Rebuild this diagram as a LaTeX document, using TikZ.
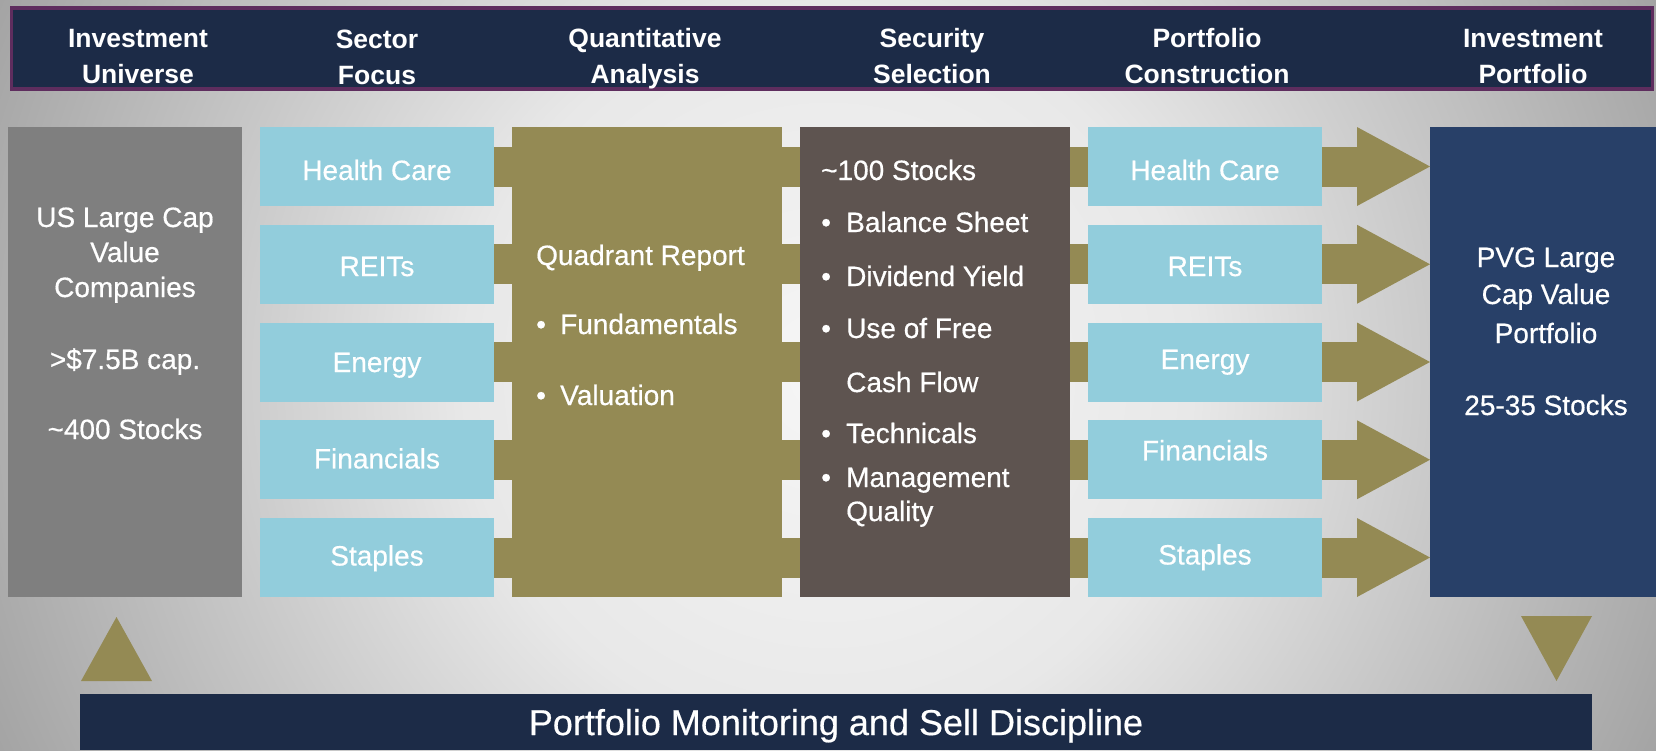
\documentclass[tikz,border=0pt]{standalone}
\usepackage{fontspec}
\setmainfont{Liberation Sans}
\newfontfamily\bodyfam{Liberation Sans}[FakeBold=0.5]
\usetikzlibrary{calc}
\definecolor{navy}{HTML}{1C2B47}
\definecolor{hdborder}{HTML}{5E2D5E}
\definecolor{boxgray}{HTML}{7F7F7F}
\definecolor{lblue}{HTML}{92CDDC}
\definecolor{barolive}{HTML}{948A54}
\definecolor{secbrown}{HTML}{5E5450}
\definecolor{portblue}{HTML}{284068}
\definecolor{bgca}{HTML}{F6F6F6}
\definecolor{bgcb}{HTML}{E8E8E8}
\definecolor{bgcc}{HTML}{A4A4A4}
\pgfdeclareradialshading{bgshade}{\pgfpoint{0bp}{0bp}}{color(0bp)=(bgca); color(10bp)=(bgcb); color(25bp)=(bgcc); color(50bp)=(bgcc)}
\newcommand\fbody{\bodyfam\fontsize{28}{34}\selectfont}
\newcommand\fhead{\fontsize{26.5}{36}\selectfont\bfseries}
\newcommand\fbottom{\bodyfam\fontsize{36}{40}\selectfont}
\tikzset{
  blk/.style={inner sep=0pt, outer sep=0pt, draw=none},
  sbox/.style={blk, fill=lblue, minimum width=234pt, minimum height=79pt, text=white, font=\fbody, text depth=0pt},
  bar/.style={draw=barolive, line width=40pt},
  tx/.style={inner sep=0pt, text=white, font=\fbody, anchor=base},
  txl/.style={tx, anchor=base west},
  hd/.style={inner sep=0pt, text=white, font=\fhead, anchor=base},
}
\begin{document}
\begin{tikzpicture}[x=1pt,y=-1pt]
\useasboundingbox (0,0) rectangle (1656,750);
% background
\begin{scope}
\clip (0,0) rectangle (1656,750);
\shade[shading=bgshade] (-81,-534) rectangle (1737,1284);
\end{scope}
% header
\node[blk, fill=navy, draw=hdborder, line width=3.5pt, minimum width=1641pt, minimum height=81pt] (header) at (831.75,48.5) {};
\node[hd] (h1a) at (138,47) {Investment};
\node[hd] (h1b) at (138,83) {Universe};
\node[hd] (h2a) at (377,48.5) {Sector};
\node[hd] (h2b) at (377,84.5) {Focus};
\node[hd] (h3a) at (645,47) {Quantitative};
\node[hd] (h3b) at (645,83) {Analysis};
\node[hd] (h4a) at (932,47) {Security};
\node[hd] (h4b) at (932,83) {Selection};
\node[hd] (h5a) at (1207,47) {Portfolio};
\node[hd] (h5b) at (1207,83) {Construction};
\node[hd] (h6a) at (1533,47) {Investment};
\node[hd] (h6b) at (1533,83) {Portfolio};
% big boxes
\node[blk, fill=boxgray, minimum width=233.6pt, minimum height=470pt] (univ) at (125.2,362) {};
\node[blk, fill=barolive, minimum width=270pt, minimum height=470pt] (quant) at (647,362) {};
\node[blk, fill=secbrown, minimum width=270pt, minimum height=470pt] (sec) at (935,362) {};
\node[blk, fill=portblue, minimum width=226pt, minimum height=470pt] (port) at (1543,362) {};
% sector boxes
\node[sbox, text height=27pt] (shc) at (377,166.5) {Health Care};
\node[sbox, text height=23.5pt] (srt) at (377,264.25) {REITs};
\node[sbox, text height=20pt] (sen) at (377,362) {Energy};
\node[sbox, text height=17.4pt] (sfi) at (377,459.75) {Financials};
\node[sbox, text height=16pt] (sst) at (377,557.5) {Staples};
% construction boxes
\node[sbox, text height=27pt] (chc) at (1205,166.5) {Health Care};
\node[sbox, text height=23.5pt] (crt) at (1205,264.25) {REITs};
\node[sbox, text height=14pt] (cen) at (1205,362) {Energy};
\node[sbox, text height=1pt] (cfi) at (1205,459.75) {Financials};
\node[sbox, text height=14pt] (cst) at (1205,557.5) {Staples};
% connectors
\foreach \s/\c in {shc/chc, srt/crt, sen/cen, sfi/cfi, sst/cst}{
  \draw[bar] (\s.east) -- (\s -| quant.west);
  \draw[bar] (\s -| quant.east) -- (\s -| sec.west);
  \draw[bar] (\c -| sec.east) -- (\c.west);
  \draw[bar] (\c.east) -- ($(\c.east)+(37,0)$);
  \fill[barolive] ($(\c.north east)+(35,0)$) -- (\c -| port.west) -- ($(\c.south east)+(35,0)$) -- cycle;
}
% universe text
\node[tx] (u1) at (125,227) {US Large Cap};
\node[tx] (u2) at (125,262) {Value};
\node[tx] (u3) at (125,297) {Companies};
\node[tx] (u4) at (125,369) {>\$7.5B cap.};
\node[tx] (u5) at (125,439) {\textasciitilde400 Stocks};
% quantitative text
\node[txl] (q1) at (536,265) {Quadrant Report};
\node[txl] (q2) at (536,334) {\makebox[24pt][l]{\textbullet}Fundamentals};
\node[txl] (q3) at (536,405) {\makebox[24pt][l]{\textbullet}Valuation};
% security text
\node[txl] (s1) at (821,180) {\textasciitilde100 Stocks};
\node[txl] (s2) at (821,232) {\makebox[25pt][l]{\textbullet}Balance Sheet};
\node[txl] (s3) at (821,286) {\makebox[25pt][l]{\textbullet}Dividend Yield};
\node[txl] (s4) at (821,338) {\makebox[25pt][l]{\textbullet}Use of Free};
\node[txl] (s5) at (846,392) {Cash Flow};
\node[txl] (s6) at (821,443) {\makebox[25pt][l]{\textbullet}Technicals};
\node[txl] (s7) at (821,487) {\makebox[25pt][l]{\textbullet}Management};
\node[txl] (s8) at (846,521) {Quality};
% portfolio text
\node[tx] (p1) at (1546,267) {PVG Large};
\node[tx] (p2) at (1546,304) {Cap Value};
\node[tx] (p3) at (1546,343) {Portfolio};
\node[tx] (p4) at (1546,415) {25-35 Stocks};
% monitoring
\fill[barolive] (81,681) -- (116.5,617) -- (152,681) -- cycle;
\fill[barolive] (1521,616) -- (1592,616) -- (1556.5,681) -- cycle;
\node[blk, fill=navy, minimum width=1512pt, minimum height=56pt, text=white, font=\fbottom, text depth=0pt] (monitor) at (836,722) {Portfolio Monitoring and Sell Discipline};
\end{tikzpicture}
\end{document}
